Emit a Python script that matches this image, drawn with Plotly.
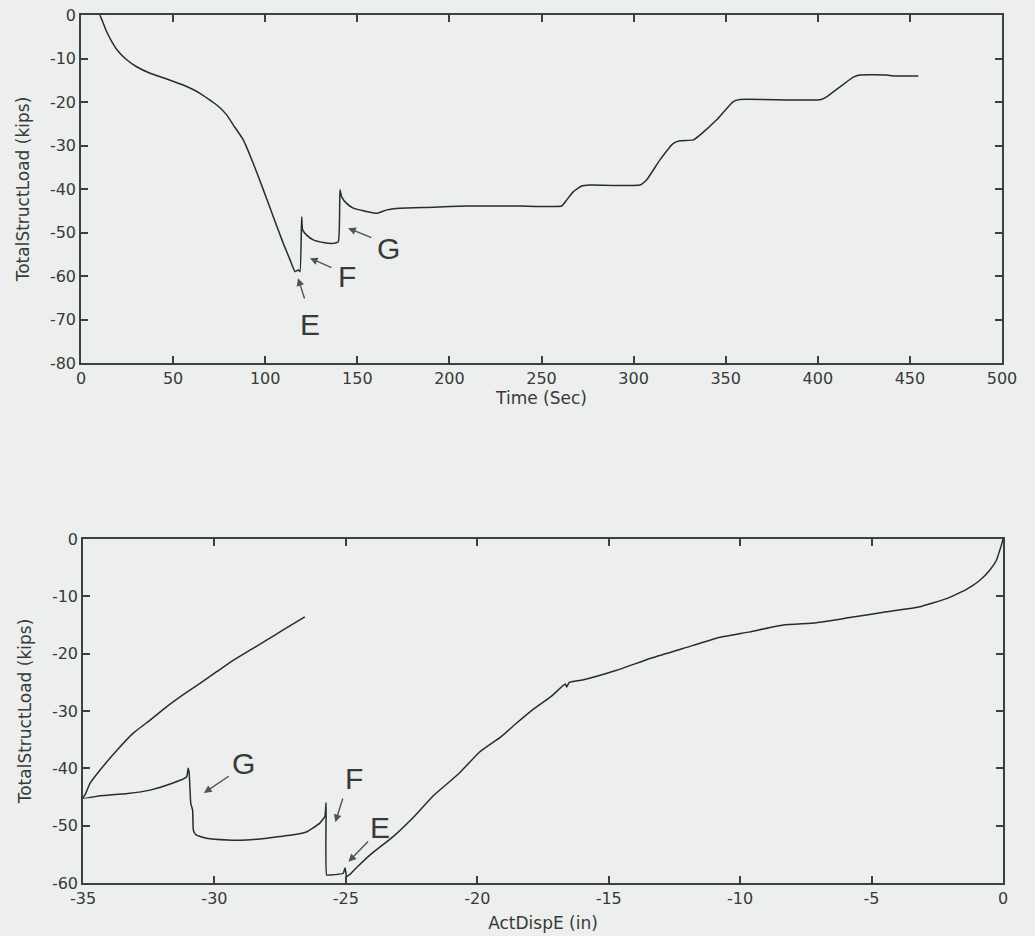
import plotly.graph_objects as go

# ---- Top panel: load vs time ----
time_sec = [10.3, 11.2, 12.1, 13.9, 16.7, 20.3, 24.8, 30.2, 37.5, 46.5, 55.5, 64.6, 73.7, 79.0, 82.7,
            88.1, 93.5, 99.0, 104.4, 109.8, 113.5, 116.2, 118.0, 118.9, 119.8, 120.3,
            122.5, 126.1, 131.5, 137.0, 139.7, 140.6, 141.5, 144.2, 147.8, 153.3, 160.5,
            166.0, 173.2, 191.3, 209.4, 238.3, 261.0, 263.7, 267.3, 271.8, 276.3, 303.5,
            307.1, 314.3, 321.6, 325.2, 332.4, 336.0, 345.1, 354.1, 357.8, 401.2, 404.8,
            412.1, 419.3, 422.9, 437.4, 441.0, 454.6]
load_time = [0.0, -1.0, -1.9, -3.8, -6.1, -8.4, -10.3, -11.9, -13.4, -14.7, -16.1, -18.0, -20.7, -22.9, -25.3,
             -28.7, -34.1, -40.2, -46.4, -52.5, -56.3, -59.0, -58.6, -59.0, -46.4, -49.4,
             -50.6, -51.7, -52.3, -52.5, -52.1, -40.2, -41.8, -43.3, -44.4, -45.0, -45.6,
             -44.8, -44.4, -44.2, -43.9, -43.9, -43.9, -42.5, -40.6, -39.3, -39.1, -39.1,
             -37.9, -33.3, -29.5, -28.9, -28.7, -27.6, -24.1, -19.9, -19.4, -19.5, -18.8,
             -16.5, -14.3, -13.8, -13.8, -14.0, -14.0]

# ---- Bottom panel: load vs displacement ----
disp_in = [0.0, -0.05, -0.12, -0.25, -0.5, -0.88, -1.39, -2.15, -3.16, -4.43, -5.83, -7.1, -8.36,
           -9.63, -10.9, -12.17, -13.4, -14.7, -16.0, -16.5, -16.6, -16.65, -17.2, -17.9,
           -18.5, -19.1, -19.9, -20.7, -21.7, -22.4, -23.2, -24.0, -24.5, -24.8, -24.97,
           -25.03, -25.1, -25.6, -25.73, -25.75, -25.8, -26.0, -26.5, -27.0, -27.5, -28.0,
           -28.8, -29.5, -30.3, -30.7, -30.8, -30.83, -30.9, -30.96, -31.0, -31.06, -31.6,
           -32.45, -33.3, -34.35, -35.0, -34.9, -34.73, -34.35, -33.7, -33.1, -32.45, -31.8,
           -31.2, -30.55, -29.9, -29.3, -28.65, -28.0, -27.4, -26.56]
load_disp = [0.0, -0.9, -1.9, -3.7, -5.4, -7.2, -8.8, -10.4, -11.8, -12.7, -13.7, -14.6, -15.0,
             -16.2, -17.3, -19.1, -20.8, -22.9, -24.6, -25.0, -25.8, -25.3, -27.5, -29.8,
             -32.1, -34.5, -37.1, -40.9, -44.9, -48.4, -51.9, -54.8, -56.9, -58.3, -58.9,
             -57.4, -58.3, -58.6, -58.6, -46.0, -48.4, -49.6, -51.1, -51.6, -51.9, -52.2,
             -52.5, -52.5, -52.2, -51.6, -50.8, -47.3, -46.1, -40.9, -40.0, -41.5, -42.6,
             -43.8, -44.4, -44.8, -45.2, -44.4, -42.6, -40.3, -36.8, -33.9, -31.6, -29.2,
             -27.2, -25.2, -23.1, -21.2, -19.4, -17.6, -15.9, -13.6]

# tick labels (MATLAB-style hyphen minus)
top_xticks = [0, 50, 100, 150, 200, 250, 300, 350, 400, 450, 500]
top_yticks = [0, -10, -20, -30, -40, -50, -60, -70, -80]
bot_xticks = [-35, -30, -25, -20, -15, -10, -5, 0]
bot_yticks = [0, -10, -20, -30, -40, -50, -60]

# annotation labels: (label, text x, text y, arrow tail x, tail y, tip x, tip y)
top_labels = [("E", 124.3, -71.2, 121.6, -65.5, 117.8, -60.5),
              ("F", 144.4, -60.2, 136.8, -58.2, 124.3, -55.9),
              ("G", 166.7, -53.6, 158.5, -51.3, 145.0, -49.0)]
bot_labels = [("G", -28.9, -39.1, -29.4, -41.2, -30.4, -44.3),
              ("F", -24.7, -41.7, -25.1, -45.0, -25.4, -49.4),
              ("E", -23.7, -50.4, -24.1, -52.5, -24.9, -56.3)]

BG = "rgb(236,239,237)"
LINE = "rgb(40,44,42)"
AX = "rgb(60,64,62)"
TXT = "rgb(55,58,56)"
FONT = "DejaVu Sans"

fig = go.Figure()
fig.add_trace(go.Scatter(x=time_sec, y=load_time, mode="lines",
                         line=dict(color=LINE, width=1.5, shape="spline", smoothing=0.4),
                         xaxis="x", yaxis="y", showlegend=False, hoverinfo="skip"))
fig.add_trace(go.Scatter(x=disp_in, y=load_disp, mode="lines",
                         line=dict(color=LINE, width=1.5, shape="spline", smoothing=0.4),
                         xaxis="x2", yaxis="y2", showlegend=False, hoverinfo="skip"))

W, H = 1035, 936
axis_common = dict(showline=True, linecolor=AX, linewidth=1.5, mirror="ticks",
                   ticks="inside", ticklen=7, tickwidth=1.5, tickcolor=AX,
                   showgrid=False, zeroline=False, automargin=False,
                   tickfont=dict(family=FONT, size=16, color=TXT))
title_font = dict(family=FONT, size=17, color=TXT)

fig.update_layout(
    width=W, height=H,
    margin=dict(l=0, r=0, t=0, b=0),
    paper_bgcolor=BG, plot_bgcolor=BG,
    font=dict(family=FONT, color=TXT),
    xaxis=dict(domain=[81 / W, 1002 / W], range=[0, 500], anchor="y",
               tickvals=top_xticks, ticktext=[str(v) for v in top_xticks],
               title=dict(text="Time (Sec)", font=title_font, standoff=5),
               **axis_common),
    yaxis=dict(domain=[(H - 363) / H, (H - 15) / H], range=[-80, 0], anchor="x",
               tickvals=top_yticks, ticktext=[str(v) for v in top_yticks],
               title=dict(text="TotalStructLoad (kips)", font=title_font, standoff=16),
               **axis_common),
    xaxis2=dict(domain=[83 / W, 1003 / W], range=[-35, 0], anchor="y2",
                tickvals=bot_xticks, ticktext=[str(v) for v in bot_xticks],
                title=dict(text="ActDispE (in)", font=title_font, standoff=10),
                **axis_common),
    yaxis2=dict(domain=[(H - 883) / H, (H - 539) / H], range=[-60, 0], anchor="x2",
                tickvals=bot_yticks, ticktext=[str(v) for v in bot_yticks],
                title=dict(text="TotalStructLoad (kips)", font=title_font, standoff=16),
                **axis_common),
)

annotations = []
for refs, labels in ((("x", "y"), top_labels), (("x2", "y2"), bot_labels)):
    xr, yr = refs
    for lab, tx, ty, ax_, ay_, hx, hy in labels:
        annotations.append(dict(x=tx, y=ty, xref=xr, yref=yr, text=lab, showarrow=False,
                                font=dict(family="Liberation Sans", size=30, color=TXT)))
        annotations.append(dict(x=hx, y=hy, xref=xr, yref=yr, ax=ax_, ay=ay_,
                                axref=xr, ayref=yr, text="", showarrow=True,
                                arrowhead=2, arrowsize=1.1, arrowwidth=1.4,
                                arrowcolor="rgb(80,84,82)"))
fig.update_layout(annotations=annotations)

fig.write_html("out.html")
